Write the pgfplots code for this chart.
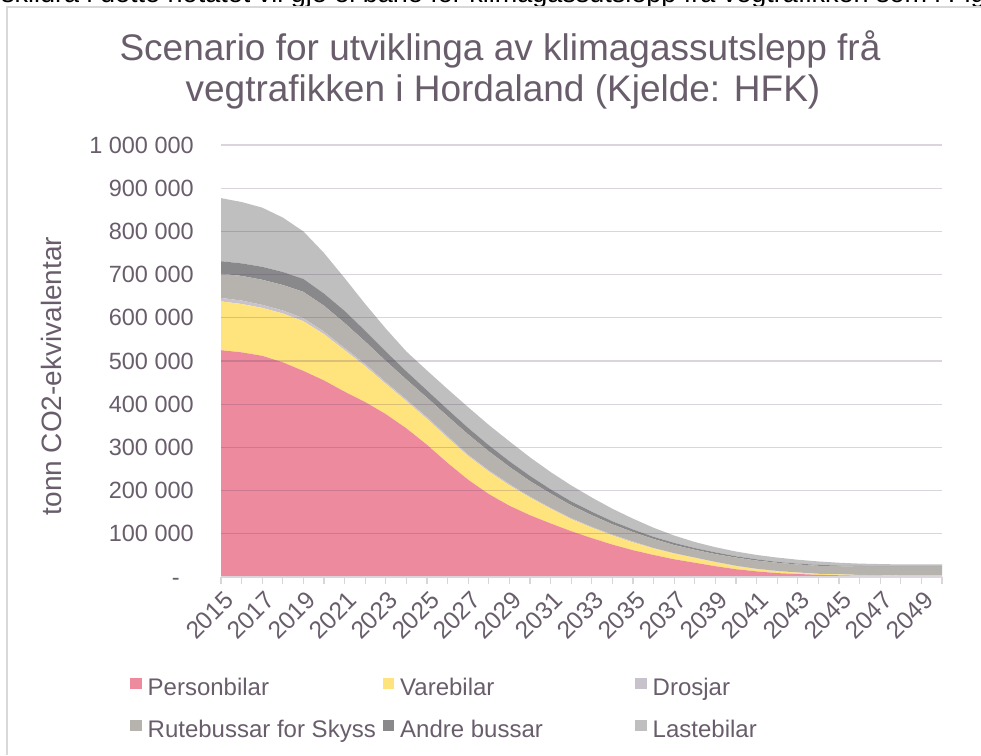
\documentclass[border=0pt]{standalone}
\usepackage{fontspec}
\setmainfont{Liberation Sans}
\usepackage{pgfplots}
\usepackage{pgfplotstable}
\pgfplotsset{compat=1.18}
\definecolor{txt}{RGB}{105,93,108}
\definecolor{framec}{RGB}{217,217,217}
\definecolor{axisc}{RGB}{217,213,219}
\definecolor{gridc}{RGB}{85,60,95}
\definecolor{pinkc}{RGB}{238,138,158}
\definecolor{yellowc}{RGB}{255,228,126}
\definecolor{drosc}{RGB}{200,194,204}
\definecolor{rutec}{RGB}{182,178,174}
\definecolor{andrec}{RGB}{137,136,139}
\definecolor{lastc}{RGB}{191,191,191}

\pgfplotstableread{
year P V D R A L
2015 525000 113000 8000 56000 29000 146000
2016 520000 112000 8000 57000 29000 142000
2017 512000 111000 7000 58000 30000 137000
2018 497000 113000 7000 59000 30000 126000
2019 477000 115000 7000 61000 30000 110000
2020 455000 107000 6000 60000 28000 94000
2021 429000 96000 5000 58000 28000 76000
2022 405000 83000 5000 52000 25000 62000
2023 377000 70000 4000 49000 22000 53000
2024 344000 63000 4000 46000 19000 46000
2025 306000 60000 4000 45000 17000 46000
2026 264000 58000 4000 46000 16000 47000
2027 225000 55000 3000 47000 15000 48000
2028 192000 52000 3000 44000 14000 47000
2029 165000 47000 3000 40000 13000 46000
2030 143000 41000 2000 36000 12000 43000
2031 124000 34000 2000 33000 10000 40000
2032 106000 28000 2000 30000 9000 37000
2033 90000 24000 2000 27000 8000 33000
2034 75000 21000 2000 24000 7000 29000
2035 62000 18000 2000 22000 6000 25000
2036 51000 15000 1000 21000 5000 21000
2037 41000 13000 1000 19000 5000 17000
2038 33000 11000 1000 18000 4000 14000
2039 25000 9000 1000 18000 4000 12000
2040 18000 7000 1000 19000 3000 11000
2041 13000 5000 1000 19000 3000 10000
2042 9000 4000 1000 19000 2000 10000
2043 7000 3000 500 18500 2000 9000
2044 5000 2000 500 18500 2000 8000
2045 4000 2000 300 18700 1500 6500
2046 3000 1500 300 19200 1500 5500
2047 3000 1000 300 19700 1300 4700
2048 2000 1000 300 20700 1200 3800
2049 2000 1000 300 20700 1200 3800
2050 2000 1000 300 20700 1200 3800
}\datatable

\begin{document}
\begin{tikzpicture}[x=1pt,y=1pt]
\useasboundingbox (0,0) rectangle (981,755);
\begin{scope}
\clip (0,0) rectangle (981,755);
\node[anchor=base west, inner sep=0pt, font=\fontsize{27}{32}\selectfont] at (1,752) {skildra i dette notatet vil gje ei bane for klimagassutslepp frå vegtrafikken som i Fig};
\end{scope}
\draw[framec, line width=1.3pt] (7,0) -- (7,748) -- (982,748);
\node[anchor=base, inner sep=0pt, font=\fontsize{37}{41}\selectfont, text=txt] at (500,694) {Scenario for utviklinga av klimagassutslepp frå};
\node[anchor=base, inner sep=0pt, font=\fontsize{37}{41}\selectfont, text=txt] at (503,653) {vegtrafikken i Hordaland (Kjelde: HFK)};
\node[rotate=90, inner sep=0pt, font=\fontsize{28}{33}\selectfont, text=txt] at (51,379) {tonn CO2-ekvivalentar};

\begin{axis}[
  at={(221pt,178pt)}, anchor=south west,
  scale only axis, width=721pt, height=432pt,
  xmin=2015, xmax=2050, ymin=0, ymax=1000000,
  scaled y ticks=false,
  stack plots=y,
  axis on top,
  axis lines*=left,
  axis line style={-},
  x axis line style={draw=axisc, line width=1.2pt},
  y axis line style={draw=none},
  ymajorgrids,
  grid style={draw=gridc, draw opacity=0.22, line width=1.2pt},
  ytick={0,100000,...,1000000},
  yticklabels={{-\hspace*{14pt}\vphantom{0}},100 000,200 000,300 000,400 000,500 000,600 000,700 000,800 000,900 000,1 000 000},
  ytick style={draw=none},
  xtick={2015,2016,...,2050},
  xticklabels={2015,,2017,,2019,,2021,,2023,,2025,,2027,,2029,,2031,,2033,,2035,,2037,,2039,,2041,,2043,,2045,,2047,,2049,},
  tick align=outside,
  major tick length=7pt,
  xtick style={draw=axisc, line width=1.2pt},
  yticklabel style={font=\fontsize{23.5}{28}\selectfont, text=txt, inner sep=0pt, anchor=east, xshift=-20pt},
  xticklabel style={font=\fontsize{24.5}{28}\selectfont, text=txt, inner sep=0pt, xshift=8pt, yshift=-12pt, rotate=45, anchor=east},
  legend columns=3,
  legend cell align=left,
  legend style={at={(-0.1262,-0.228)}, anchor=north west, draw=none, fill=none,
     font=\fontsize{24}{28}\selectfont, text=txt, row sep=21pt, column sep=0pt, inner sep=0pt,
     nodes={inner sep=0pt}},
  legend image code/.code={\fill[#1] (0pt,-3pt) rectangle (11.5pt,8.5pt);},
]
\addplot[fill=pinkc, draw=none] table[x=year, y=P] {\datatable} \closedcycle;
\addlegendentry{\hspace*{6pt}\makebox[235pt][l]{Personbilar\strut}}
\addplot[fill=yellowc, draw=none] table[x=year, y=V] {\datatable} \closedcycle;
\addlegendentry{\hspace*{6pt}\makebox[235pt][l]{Varebilar\strut}}
\addplot[fill=drosc, draw=none] table[x=year, y=D] {\datatable} \closedcycle;
\addlegendentry{\hspace*{6pt}\makebox[235pt][l]{Drosjar\strut}}
\addplot[fill=rutec, draw=none] table[x=year, y=R] {\datatable} \closedcycle;
\addlegendentry{\hspace*{6pt}\makebox[235pt][l]{Rutebussar for Skyss\strut}}
\addplot[fill=andrec, draw=none] table[x=year, y=A] {\datatable} \closedcycle;
\addlegendentry{\hspace*{6pt}\makebox[235pt][l]{Andre bussar\strut}}
\addplot[fill=lastc, draw=none] table[x=year, y=L] {\datatable} \closedcycle;
\addlegendentry{\hspace*{6pt}\makebox[235pt][l]{Lastebilar\strut}}
\end{axis}
\end{tikzpicture}
\end{document}
